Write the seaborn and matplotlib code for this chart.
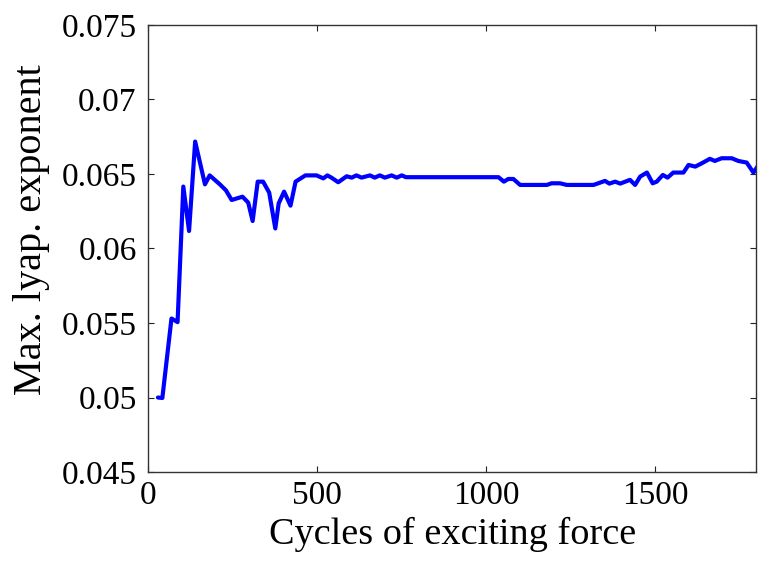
import matplotlib
matplotlib.use("Agg")
import matplotlib.pyplot as plt
import seaborn as sns
import pandas as pd

# ── Data ──────────────────────────────────────────────────
cycles = [30, 43, 70, 88, 105, 122, 140, 169, 183, 213, 231, 248, 280, 297,
          310, 325, 341, 359, 377, 387, 403, 422, 437, 466, 499, 519, 531,
          543, 563, 588, 603, 617, 632, 657, 671, 686, 701, 721, 736, 751,
          763, 1037, 1053, 1066, 1081, 1101, 1180, 1194, 1219, 1239, 1318,
          1337, 1352, 1365, 1382, 1397, 1426, 1441, 1456, 1476, 1493, 1505,
          1523, 1537, 1554, 1584, 1599, 1619, 1638, 1662, 1677, 1697, 1727,
          1746, 1771, 1791, 1805]
lyap = [0.0500, 0.04997, 0.0553, 0.05506, 0.06415, 0.06117, 0.06717, 0.0643,
        0.0649, 0.0643, 0.0639, 0.06325, 0.06347, 0.06307, 0.06184, 0.06448,
        0.06448, 0.06374, 0.06134, 0.06302, 0.06381, 0.06287, 0.06448,
        0.0649, 0.0649, 0.0647, 0.0649, 0.06475, 0.06444, 0.06484, 0.06475,
        0.0649, 0.06475, 0.0649, 0.06475, 0.0649, 0.06475, 0.0649, 0.06475,
        0.0649, 0.06478, 0.06478, 0.06448, 0.06466, 0.06466, 0.06426,
        0.06426, 0.06437, 0.06437, 0.06426, 0.06426, 0.06441, 0.06453,
        0.06435, 0.06448, 0.06435, 0.0646, 0.06426, 0.06482, 0.06509,
        0.06437, 0.06448, 0.06493, 0.06475, 0.06509, 0.06509, 0.0656,
        0.06549, 0.06571, 0.06601, 0.06587, 0.06605, 0.06605, 0.06587,
        0.06576, 0.06509, 0.06556]

x_ticks = [0, 500, 1000, 1500]
y_ticks = [0.045, 0.05, 0.055, 0.06, 0.065, 0.07, 0.075]
y_tick_labels = ["0.045", "0.05", "0.055", "0.06", "0.065", "0.07", "0.075"]

df = pd.DataFrame({"cycles": cycles, "lyap": lyap})

# ── Style ─────────────────────────────────────────────────
sns.set_theme(style="white")
plt.rcParams["font.family"] = ["Liberation Serif", "DejaVu Serif"]
for key in ["text.color", "axes.labelcolor", "xtick.color", "ytick.color"]:
    plt.rcParams[key] = "black"

fig = plt.figure(figsize=(7.58, 5.64), dpi=100)
ax = fig.add_axes([0.195, 0.163, 0.803, 0.793])

sns.lineplot(data=df, x="cycles", y="lyap", sort=False, color="#0000ff",
             linewidth=3.0, ax=ax)

ax.set_xlim(0, 1800)
ax.set_ylim(0.045, 0.075)
ax.set_xticks(x_ticks)
ax.set_xticklabels([str(t) for t in x_ticks])
ax.set_yticks(y_ticks)
ax.set_yticklabels(y_tick_labels)

ax.tick_params(axis="both", which="both", direction="in", length=4,
               width=0.8, color="#222222", labelsize=24,
               top=True, right=True, bottom=True, left=True)
ax.tick_params(axis="y", pad=8)
ax.tick_params(axis="x", pad=6)
for s in ax.spines.values():
    s.set_visible(True)
    s.set_color("#333333")
    s.set_linewidth(1.0)

ax.set_xlabel("Cycles of exciting force", fontsize=27.5, labelpad=4)
ax.set_ylabel("Max. lyap. exponent", fontsize=29)
ax.yaxis.set_label_coords(-0.16, 0.541)
ax.grid(False)

plt.savefig("out.png", dpi=100)
plt.close()
